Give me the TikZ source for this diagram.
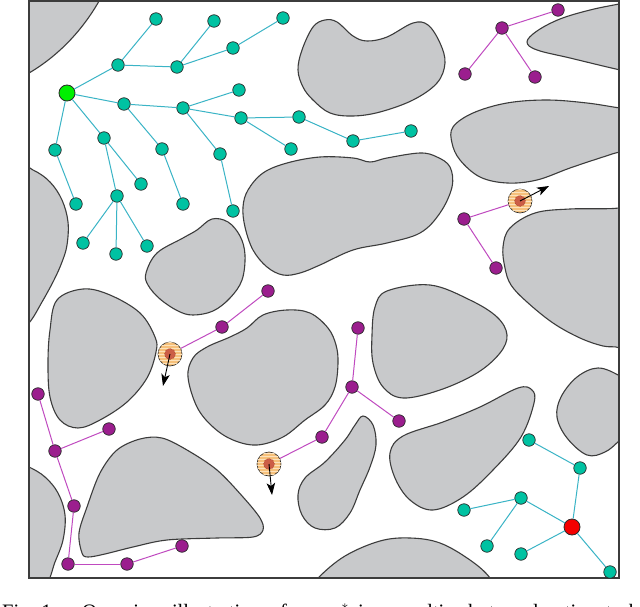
\documentclass[tikz,border=0pt]{standalone}
\usepackage{fontspec}
\setmainfont{Liberation Serif}
\usetikzlibrary{arrows.meta,patterns}
\definecolor{obfill}{HTML}{C8C9CB}
\definecolor{obline}{HTML}{3C3C3C}
\definecolor{cfill}{HTML}{00C2A2}
\definecolor{cedgec}{HTML}{3AB4C6}
\definecolor{pfill}{HTML}{9B1E8E}
\definecolor{pedgec}{HTML}{C04AC0}
\definecolor{nline}{HTML}{2A2A2A}
\definecolor{rout}{HTML}{F6C07A}
\definecolor{rstripe}{HTML}{FCE2BC}
\definecolor{rin}{HTML}{CC5E46}
\definecolor{rinline}{HTML}{A8402E}
\definecolor{groot}{HTML}{00F000}
\definecolor{rroot}{HTML}{F40000}
\begin{document}
\begin{tikzpicture}[x=1pt,y=-1pt,
  obst/.style={fill=obfill, draw=obline, line width=1.1pt, line join=round},
  framebox/.style={draw=obline, line width=1.4pt},
  cnode/.style={circle, fill=cfill, draw=nline, line width=0.7pt, minimum size=12.5pt, inner sep=0pt},
  pnode/.style={circle, fill=pfill, draw=nline, line width=0.7pt, minimum size=12.5pt, inner sep=0pt},
  gnode/.style={circle, fill=groot, draw=nline, line width=0.8pt, minimum size=16pt, inner sep=0pt},
  rnode/.style={circle, fill=rroot, draw=nline, line width=0.8pt, minimum size=16pt, inner sep=0pt},
  cedge/.style={draw=cedgec, line width=1pt},
  pedge/.style={draw=pedgec, line width=1pt},
  robot/.style={circle, fill=rout, draw=nline, line width=0.6pt, minimum size=24pt, inner sep=0pt,
     postaction={pattern=horizontal lines, pattern color=rstripe}},
  robotin/.style={circle, fill=rin, draw=rinline, densely dotted, line width=0.6pt, minimum size=11pt, inner sep=0pt},
  headarrow/.style={draw=black, line width=0.9pt, -{Stealth[length=12pt,width=8.5pt,inset=3pt]}},
  captext/.style={anchor=base west, inner sep=0pt, font=\fontsize{20.5}{24}\selectfont}
]
\useasboundingbox (0,0) rectangle (640,607);
\fill[white] (0,0) rectangle (640,607);

% ---------------- obstacles ----------------
\begin{scope}
\clip (29,1) rectangle (619,578);
% A top-left corner
\draw[obst] (105,-10) .. controls (85,30) and (55,60) .. (20,78) -- (-10,78) -- (-10,-10) -- cycle;
% B left
\draw[obst] plot[smooth cycle, tension=0.6] coordinates {(5,160) (33,170) (50,182) (62,200) (68,222) (67,245) (62,262) (54,280) (42,302) (29,323) (10,340) (0,250)};
% C bottom-left
\draw[obst] plot[smooth cycle, tension=0.6] coordinates {(10,460) (29,467) (45,477) (58,493) (65,515) (63,540) (55,562) (45,585) (20,590) (5,520)};
% D
\draw[obst] plot[smooth cycle, tension=0.6] coordinates {(57,300) (83,289) (110,295) (140,313) (155,337) (156,352) (147,378) (127,402) (100,420) (78,428) (60,420) (50,397) (48,363) (50,330)};
% E
\draw[obst] plot[smooth cycle, tension=0.55] coordinates {(82,553) (79,533) (87,507) (100,473) (117,450) (140,439) (162,438) (187,450) (217,470) (243,497) (260,518) (263,530) (253,537) (217,538) (167,540) (133,547) (105,554) (88,557)};
% F
\draw[obst] plot[smooth cycle, tension=0.6] coordinates {(146,273) (157,253) (183,238) (197,230) (212,219) (228,222) (240,236) (245,255) (242,280) (230,298) (213,311) (193,315) (178,311) (160,299) (148,285)};
% G
\draw[obst] plot[smooth cycle, tension=0.6] coordinates {(188,377) (193,358) (207,347) (230,337) (247,328) (263,315) (287,310) (310,313) (328,328) (336,345) (338,363) (335,387) (325,405) (305,420) (283,437) (257,445) (233,440) (213,427) (197,407)};
% H
\draw[obst] plot[smooth cycle, tension=0.6] coordinates {(363,416) (373,425) (376,445) (370,467) (360,490) (350,513) (335,528) (315,528) (302,515) (298,495) (305,478) (325,462) (345,440) (355,425)};
% I
\draw[obst] plot[smooth cycle, tension=0.6] coordinates {(375,307) (387,291) (430,285) (470,300) (497,317) (507,335) (500,353) (477,373) (440,390) (403,398) (383,387) (373,363) (372,335)};
% J
\draw[obst] plot[smooth cycle, tension=0.6] coordinates {(390,453) (403,436) (443,422) (480,407) (518,388) (532,390) (534,403) (521,437) (493,470) (463,497) (433,510) (410,500) (395,478)};
% K
\draw[obst] plot[smooth cycle, tension=0.6] coordinates {(640,390) (620,376) (598,368) (577,377) (561,397) (557,417) (567,438) (587,455) (605,452) (620,440) (640,420)};
% L bottom dome
\draw[obst] plot[smooth cycle, tension=0.6] coordinates {(300,600) (318,578) (345,556) (380,541) (410,538) (440,543) (470,560) (490,578) (500,600) (400,610)};
% M
\draw[obst] plot[smooth cycle, tension=0.6] coordinates {(640,200) (619,208) (570,209) (535,213) (510,228) (503,247) (505,268) (511,285) (527,302) (553,323) (580,338) (603,346) (620,348) (640,360)};
% N
\draw[obst] plot[smooth cycle, tension=0.6] coordinates {(640,0) (619,4) (590,10) (560,19) (537,31) (527,42) (537,50) (570,58) (603,66) (620,70) (640,75)};
% O
\draw[obst] plot[smooth cycle, tension=0.6] coordinates {(640,110) (620,108) (587,103) (547,100) (507,103) (473,113) (453,127) (452,143) (460,160) (480,177) (507,183) (537,180) (570,168) (603,157) (620,152) (640,150)};
% P
\draw[obst] plot[smooth cycle, tension=0.6] coordinates {(313,27) (325,20) (337,22) (353,36) (367,41) (387,37) (413,23) (428,25) (440,43) (445,63) (437,83) (413,100) (380,112) (353,116) (330,113) (313,100) (303,87) (298,70) (302,50)};
% Q
\draw[obst] plot[smooth cycle, tension=0.6] coordinates {(320,157) (353,158) (370,162) (387,158) (420,153) (437,157) (450,167) (452,187) (440,213) (420,233) (387,243) (353,250) (320,265) (300,273) (283,275) (267,267) (253,250) (245,227) (243,207) (248,190) (263,173) (287,163)};
\end{scope}

\draw[framebox] (29,1) rectangle (619,578);

% ---------------- cyan tree 1 ----------------
\node[gnode] (g) at (67,93) {};
\node[cnode] (a1) at (118,65) {};
\node[cnode] (a2) at (156,19) {};
\node[cnode] (a3) at (177,67) {};
\node[cnode] (a4) at (214,21) {};
\node[cnode] (a5) at (233,48) {};
\node[cnode] (a6) at (283,18) {};
\node[cnode] (b1) at (124,104) {};
\node[cnode] (b2) at (183,108) {};
\node[cnode] (b3) at (239,90) {};
\node[cnode] (b4) at (241,118) {};
\node[cnode] (b5) at (299,117) {};
\node[cnode] (b6) at (291,149) {};
\node[cnode] (b7) at (220,154) {};
\node[cnode] (b8) at (233,211) {};
\node[cnode] (b9) at (162,149) {};
\node[cnode] (b10) at (183,204) {};
\node[cnode] (c1) at (104,138) {};
\node[cnode] (c2) at (141,184) {};
\node[cnode] (c3) at (117,196) {};
\node[cnode] (c4) at (83,243) {};
\node[cnode] (c5) at (116,254) {};
\node[cnode] (c6) at (147,246) {};
\node[cnode] (d1) at (55,150) {};
\node[cnode] (d2) at (76,204) {};
\node[cnode] (e1) at (353,141) {};
\node[cnode] (e2) at (411,131) {};
\foreach \u/\v in {g/a1,a1/a2,a1/a3,a3/a4,a3/a5,a5/a6,g/b1,b1/b2,b2/b3,b2/b4,b4/b5,b4/b6,b2/b7,b7/b8,b1/b9,b9/b10,g/c1,c1/c2,c1/c3,c3/c4,c3/c5,c3/c6,g/d1,d1/d2,b5/e1,e1/e2}
  \draw[cedge] (\u) -- (\v);

% ---------------- cyan tree 2 ----------------
\node[rnode] (r) at (572,527) {};
\node[cnode] (f1) at (529,440) {};
\node[cnode] (f2) at (580,468) {};
\node[cnode] (f3) at (521,498) {};
\node[cnode] (f4) at (464,510) {};
\node[cnode] (f5) at (487,546) {};
\node[cnode] (f6) at (521,554) {};
\node[cnode] (f7) at (610,572) {};
\foreach \u/\v in {r/f2,f2/f1,r/f3,f3/f4,f3/f5,r/f6,r/f7}
  \draw[cedge] (\u) -- (\v);

% ---------------- purple trees ----------------
\node[pnode] (p1) at (502,28) {};
\node[pnode] (p2) at (558,10) {};
\node[pnode] (p3) at (465,74) {};
\node[pnode] (p4) at (535,77) {};
\foreach \u/\v in {p1/p2,p1/p3,p1/p4}
  \draw[pedge] (\u) -- (\v);

\node[pnode] (t1) at (38,394) {};
\node[pnode] (t2) at (55,451) {};
\node[pnode] (t3) at (109,429) {};
\node[pnode] (t4) at (74,506) {};
\node[pnode] (t5) at (68,564) {};
\node[pnode] (t6) at (127,564) {};
\node[pnode] (t7) at (182,546) {};
\foreach \u/\v in {t1/t2,t2/t3,t2/t4,t4/t5,t5/t6,t6/t7}
  \draw[pedge] (\u) -- (\v);

% robots
\node[robot] (R1) at (520,201) {};
\node[robotin] (R1i) at (R1.center) {};
\node[pnode] (q1) at (464,219) {};
\node[pnode] (q2) at (496,268) {};
\draw[pedge] (R1) -- (q1);
\draw[pedge] (q1) -- (q2);
\coordinate (R1t) at (549,186);
\draw[headarrow] (R1.center) -- (R1t);

\node[robot] (R2) at (170,354) {};
\node[robotin] (R2i) at (R2.center) {};
\node[pnode] (s1) at (222,327) {};
\node[pnode] (s2) at (268,291) {};
\draw[pedge] (R2) -- (s1);
\draw[pedge] (s1) -- (s2);
\coordinate (R2t) at (163,386);
\draw[headarrow] (R2.center) -- (R2t);

\node[robot] (R3) at (269,464) {};
\node[robotin] (R3i) at (R3.center) {};
\node[pnode] (u1) at (322,437) {};
\node[pnode] (u2) at (352,387) {};
\node[pnode] (u3) at (358,328) {};
\node[pnode] (u4) at (399,421) {};
\draw[pedge] (R3) -- (u1);
\foreach \u/\v in {u1/u2,u2/u3,u2/u4}
  \draw[pedge] (\u) -- (\v);
\coordinate (R3t) at (272,495);
\draw[headarrow] (R3.center) -- (R3t);

% ---------------- caption (cut off at the bottom, as in the source) ----------------
\begin{scope}
\clip (0,0) rectangle (640,607);
\node[captext] (cap1) at (2,618) {Fig. 1.};
\node[captext] (cap2) at (82,618) {\spaceskip=9pt Overview illustration of our a$^*$ in a multi-robot exploration task};
\end{scope}
\end{tikzpicture}
\end{document}
